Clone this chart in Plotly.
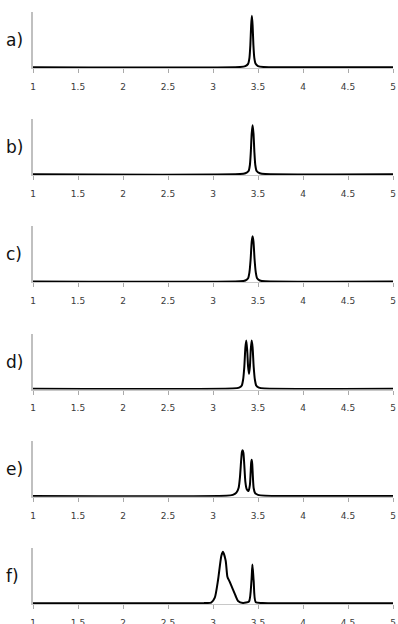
import plotly.graph_objects as go

# ---- data (x in ppm-like units, y relative intensity) ----
panel_labels = ["a)", "b)", "c)", "d)", "e)", "f)"]
tick_values = [1, 1.5, 2, 2.5, 3, 3.5, 4, 4.5, 5]
tick_labels = ["1", "1.5", "2", "2.5", "3", "3.5", "4", "4.5", "5"]

x_a = [1.0, 3.30, 3.36, 3.39, 3.405, 3.415, 3.424, 3.432, 3.440, 3.449, 3.459, 3.474, 3.50, 3.56, 5.0]
y_a = [0, 0.005, 0.02, 0.06, 0.17, 0.40, 0.76, 0.93, 0.76, 0.40, 0.17, 0.06, 0.02, 0.005, 0]

x_b = [1.0, 3.30, 3.36, 3.395, 3.41, 3.42, 3.43, 3.44, 3.45, 3.46, 3.47, 3.485, 3.52, 3.58, 5.0]
y_b = [0, 0.005, 0.02, 0.06, 0.17, 0.40, 0.74, 0.89, 0.74, 0.40, 0.17, 0.06, 0.02, 0.005, 0]

x_c = [1.0, 3.30, 3.36, 3.39, 3.405, 3.418, 3.43, 3.44, 3.45, 3.462, 3.475, 3.49, 3.52, 3.58, 5.0]
y_c = [0, 0.005, 0.02, 0.06, 0.17, 0.40, 0.72, 0.82, 0.72, 0.40, 0.17, 0.06, 0.02, 0.005, 0]

x_d = [1.0, 3.22, 3.29, 3.32, 3.335, 3.348, 3.36, 3.37, 3.38, 3.39, 3.40, 3.41, 3.42, 3.43,
       3.44, 3.452, 3.465, 3.48, 3.51, 3.57, 5.0]
y_d = [0, 0.005, 0.02, 0.06, 0.17, 0.40, 0.75, 0.875, 0.70, 0.40, 0.27, 0.40, 0.72, 0.875,
       0.75, 0.40, 0.17, 0.06, 0.02, 0.005, 0]

x_e = [1.0, 3.15, 3.22, 3.26, 3.285, 3.300, 3.313, 3.322, 3.330, 3.338, 3.347, 3.360, 3.375,
       3.395, 3.410, 3.418, 3.424, 3.430, 3.436, 3.443, 3.452, 3.468, 3.50, 3.58, 5.0]
y_e = [0, 0.005, 0.02, 0.06, 0.15, 0.35, 0.65, 0.80, 0.83, 0.78, 0.58, 0.25, 0.12,
       0.09, 0.20, 0.42, 0.60, 0.655, 0.58, 0.35, 0.14, 0.05, 0.02, 0.005, 0]

x_f = [1.0, 2.90, 2.98, 3.02, 3.056, 3.093, 3.111, 3.141, 3.16, 3.185, 3.222, 3.252, 3.278,
       3.333, 3.40, 3.427, 3.438, 3.452, 3.474, 3.55, 5.0]
y_f = [0, 0.003, 0.01, 0.10, 0.42, 0.86, 0.93, 0.77, 0.48, 0.39, 0.245, 0.13, 0.04,
       0.005, 0.03, 0.40, 0.70, 0.40, 0.02, 0.004, 0]

series_x = [x_a, x_b, x_c, x_d, x_e, x_f]
series_y = [y_a, y_b, y_c, y_d, y_e, y_f]

# ---- layout geometry ----
W, H = 398, 624
ML, MR, MT, MB = 33, 5, 12, 20
plot_h = H - MT - MB
panel_h = 56
step = 107.2

fig = go.Figure()
annotations = []
for i in range(6):
    base_px = 68 + i * step - MT          # distance from top of plot area to baseline
    top_px = base_px - panel_h
    d0 = (plot_h - base_px) / plot_h
    d1 = (plot_h - top_px) / plot_h
    suffix = "" if i == 0 else str(i + 1)
    fig.add_trace(go.Scatter(
        x=series_x[i], y=series_y[i], mode="lines",
        line=dict(color="black", width=2, shape="spline", smoothing=0.6),
        xaxis="x" + suffix, yaxis="y" + suffix, showlegend=False, hoverinfo="skip",
    ))
    fig.update_layout(**{
        "xaxis" + suffix: dict(
            domain=[0, 1], range=[1, 5], anchor="y" + suffix,
            tickvals=tick_values, ticktext=tick_labels,
            ticks="outside", ticklen=4, tickwidth=1, tickcolor="#aaaaaa",
            showline=True, linecolor="#c8c8c8", linewidth=1,
            showgrid=False, zeroline=False, automargin=False,
            tickfont=dict(family="DejaVu Sans", size=9, color="#3a3a3a"),
            ticklabelstandoff=6,
        ),
        "yaxis" + suffix: dict(
            domain=[d0, d1], range=[-0.015, 1.0], anchor="x" + suffix,
            showline=True, linecolor="#c0c0c0", linewidth=1.5,
            showticklabels=False, ticks="", showgrid=False, zeroline=False,
            automargin=False,
        ),
    })
    annotations.append(dict(
        text=panel_labels[i], xref="paper", yref="paper",
        x=(4 - ML) / (W - ML - MR), y=(d0 + d1) / 2,
        xanchor="left", yanchor="middle", showarrow=False,
        font=dict(family="DejaVu Sans", size=17, color="#111111"),
    ))

fig.update_layout(
    width=W, height=H,
    margin=dict(l=ML, r=MR, t=MT, b=MB, autoexpand=False),
    paper_bgcolor="white", plot_bgcolor="white",
    annotations=annotations,
)

fig.write_html("out.html")
